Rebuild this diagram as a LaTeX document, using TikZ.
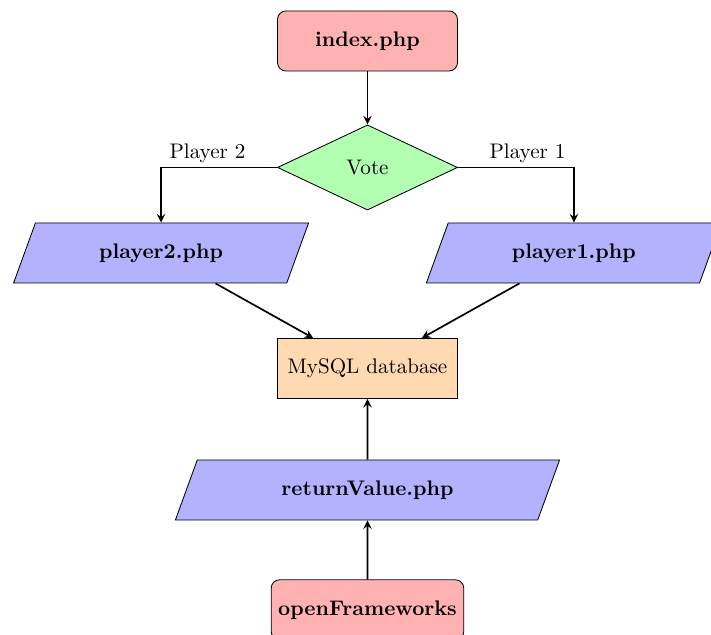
\documentclass[tikz,border=0pt]{standalone}
\usepackage{amsmath}
\usepackage{amssymb}
\usepackage{tikz}
\usetikzlibrary{shapes.geometric,arrows}

\tikzset{
	startstop/.style={rectangle, rounded corners, minimum width=3cm, minimum height=1cm, text centered, draw=black, fill=red!30, font=\bfseries},
	io/.style={trapezium, trapezium left angle=70, trapezium right angle=110, minimum width=3cm, minimum height=1cm, text centered, draw=black, fill=blue!30, font=\bfseries},
	decision/.style={diamond, minimum width=3cm, minimum height=1cm, text centered, draw=black, fill=green!30},
	storage/.style={rectangle, minimum width=3cm, minimum height=1cm, text centered, draw=black, fill=orange!30},
	arrow/.style={thick,->,>=stealth}
}

\begin{document}
\begin{tikzpicture}
	\useasboundingbox (-6.125,0.683) rectangle (5.725,-9.9);
	\node[startstop] (index) at (0,0) {index.php};
	\node[decision] (vote) at (0,-2.108) {Vote};
	\node[io] (player_2) at (-3.44,-3.533) {player2.php};
	\node[io] (player_1) at (3.44,-3.533) {player1.php};
	\node[storage] (db) at (0,-5.458) {MySQL database};
	\node[io] (ret_val) at (0,-7.483) {returnValue.php};
	\node[startstop] (of) at (0,-9.48) {openFrameworks};
	\draw[arrow] (index) -- (vote);
	\draw[arrow] (vote.west) -| (player_2.north) node[pos=0.3,anchor=south,inner sep=2pt] {Player 2};
	\draw[arrow] (vote.east) -| (player_1.north) node[pos=0.3,anchor=south,inner sep=2pt] {Player 1};
	\draw[arrow] (player_2) -- (db);
	\draw[arrow] (player_1) -- (db);
	\draw[arrow] (ret_val) -- (db);
	\draw[arrow] (of) -- (ret_val);
\end{tikzpicture}
\end{document}
